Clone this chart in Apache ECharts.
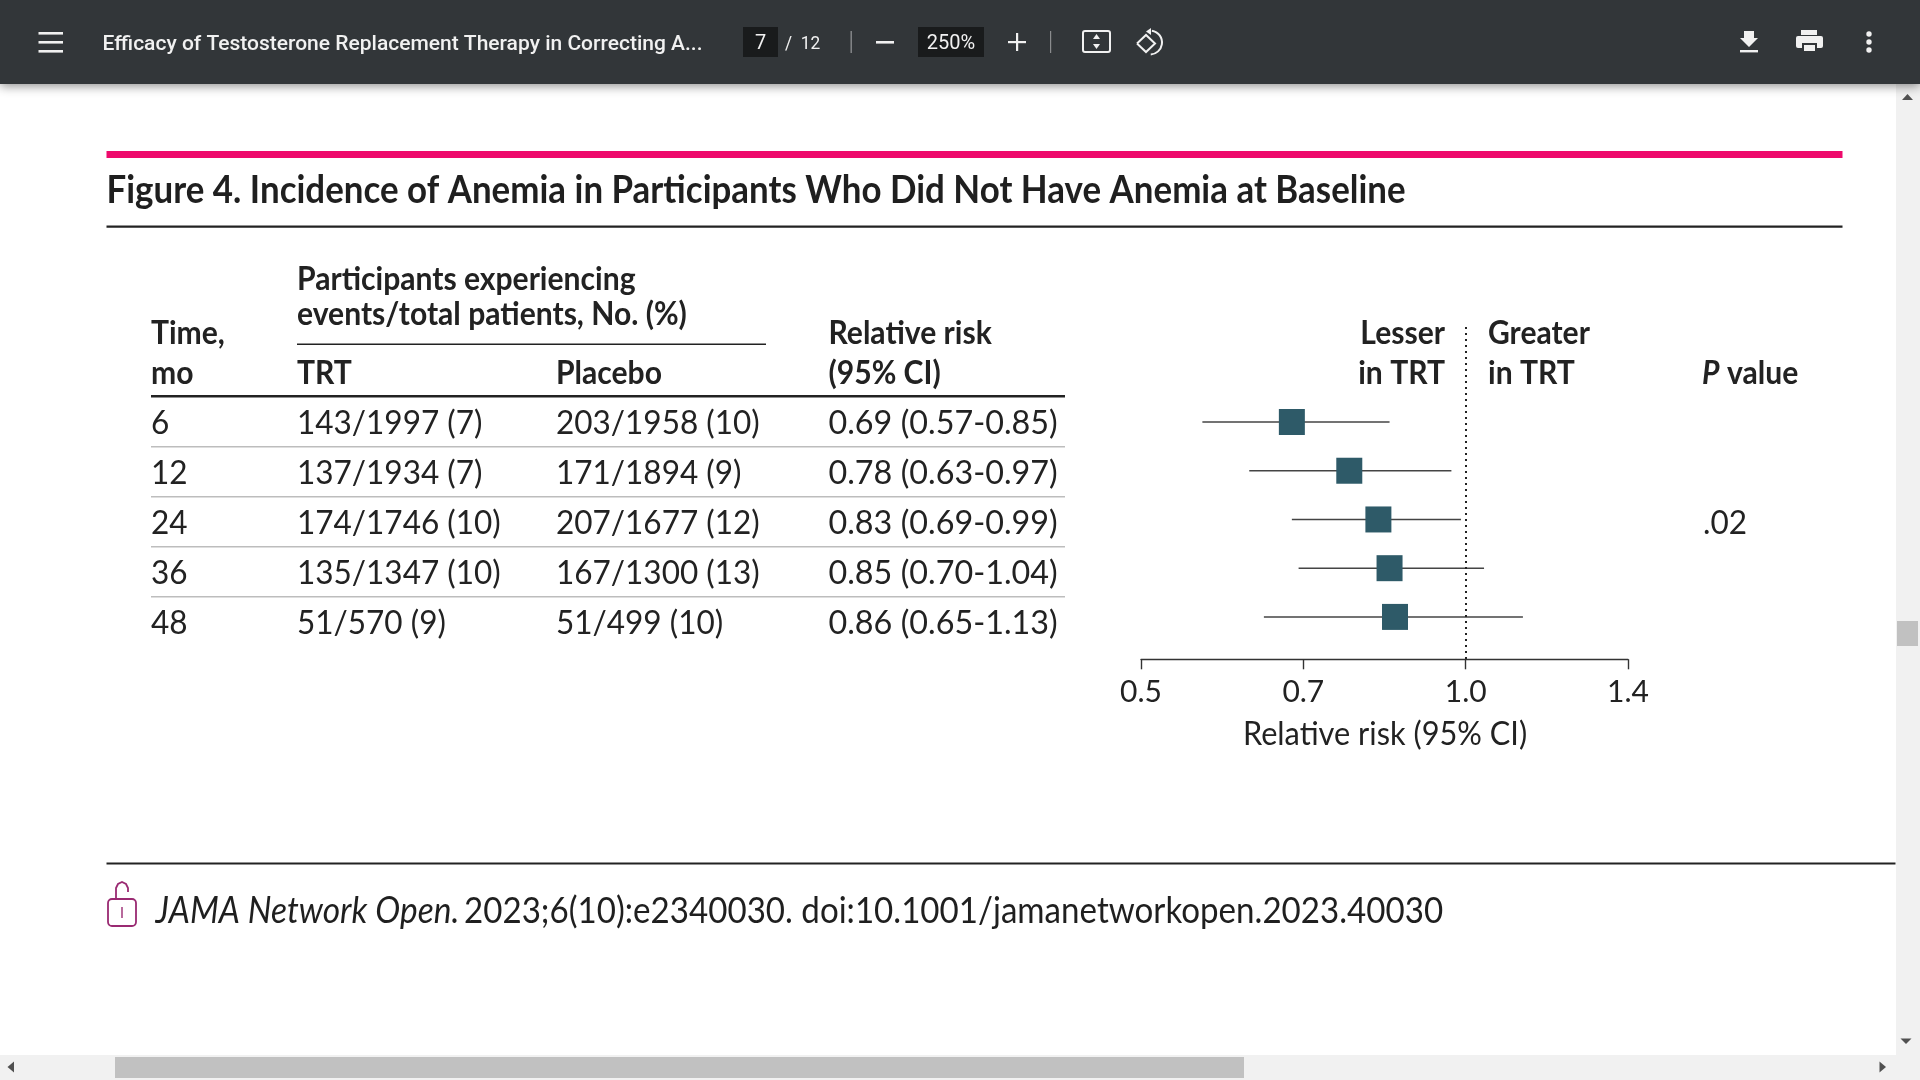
<!DOCTYPE html>
<html>
<head>
<meta charset="utf-8">
<title>Figure 4</title>
<script src="https://cdn.jsdelivr.net/npm/echarts@6/dist/echarts.min.js"></script>
<style>
html, body { margin: 0; padding: 0; background: #fff; overflow: hidden; }
#chart { width: 1920px; height: 1080px; }
</style>
</head>
<body>
<div id="chart"></div>
<script>
// table columns
const times = ['6', '12', '24', '36', '48'];
const trtCounts = ['143/1997 (7)', '137/1934 (7)', '174/1746 (10)', '135/1347 (10)', '51/570 (9)'];
const placeboCounts = ['203/1958 (10)', '171/1894 (9)', '207/1677 (12)', '167/1300 (13)', '51/499 (10)'];
const riskLabels = ['0.69 (0.57-0.85)', '0.78 (0.63-0.97)', '0.83 (0.69-0.99)', '0.85 (0.70-1.04)', '0.86 (0.65-1.13)'];

// forest plot
const risk = [0.69, 0.78, 0.83, 0.85, 0.86];
const ciLow = [0.57, 0.63, 0.69, 0.70, 0.65];
const ciHigh = [0.85, 0.97, 0.99, 1.04, 1.13];
const tickLabels = ['0.5', '0.7', '1.0', '1.4'];

const INK = '#222222';
const LIGHT = '#f1f1f1';
const BODY = 'Lato';
const rowY = [424, 474, 524, 574, 624];
const graphics = [];

function text(str, x, y, size, opts) {
    opts = opts || {};
    graphics.push({
        type: 'text',
        x: x,
        y: y,
        scaleX: opts.scaleX || 1,
        z: 10,
        style: {
            text: str,
            fill: opts.fill || INK,
            font: `${opts.italic ? 'italic ' : ''}${opts.weight || 400} ${size}px ${opts.family || BODY}`,
            align: opts.align || 'left',
            verticalAlign: 'middle'
        }
    });
}

function rect(x, y, w, h, fill, r, z) {
    graphics.push({
        type: 'rect',
        z: z || 5,
        shape: { x: x, y: y, width: w, height: h, r: r || 0 },
        style: { fill: fill }
    });
}

function frame(x, y, w, h, stroke, r, lineWidth) {
    graphics.push({
        type: 'rect',
        z: 11,
        shape: { x: x, y: y, width: w, height: h, r: r },
        style: { fill: 'none', stroke: stroke, lineWidth: lineWidth }
    });
}

function stroke(points, color, lineWidth) {
    graphics.push({
        type: 'polyline',
        z: 11,
        shape: { points: points },
        style: { fill: 'none', stroke: color, lineWidth: lineWidth }
    });
}

function poly(points, fill) {
    graphics.push({ type: 'polygon', z: 11, shape: { points: points }, style: { fill: fill } });
}

// table
const HEAD = { weight: 700, scaleX: 0.94 };
const COUNT = { scaleX: 0.985 };
const RR = { scaleX: 1.01 };
text('Participants experiencing', 297, 280, 32, HEAD);
text('events/total patients, No. (%)', 297, 315, 32, HEAD);
text('Time,', 151, 334, 32, HEAD);
text('mo', 151, 374, 32, HEAD);
text('TRT', 297, 374, 32, HEAD);
text('Placebo', 556, 374, 32, HEAD);
text('Relative risk', 828.5, 334, 32, HEAD);
text('(95% CI)', 828.5, 374, 32, HEAD);
rect(297, 343.5, 469, 1.6, INK);
rect(151, 395, 914, 2.6, INK);
[446, 496, 546, 596].forEach(y => rect(151, y, 914, 1.4, '#bdbdbd'));

times.forEach((t, i) => {
    text(t, 151, rowY[i], 32, COUNT);
    text(trtCounts[i], 297, rowY[i], 32, COUNT);
    text(placeboCounts[i], 556, rowY[i], 32, COUNT);
    text(riskLabels[i], 828.5, rowY[i], 32, RR);
});

// forest plot captions
text('Lesser', 1445, 334, 32, { weight: 700, align: 'right', scaleX: 0.94 });
text('in TRT', 1445, 374, 32, { weight: 700, align: 'right', scaleX: 0.94 });
text('Greater', 1488, 334, 32, HEAD);
text('in TRT', 1488, 374, 32, HEAD);
text('P', 1702, 374, 32, { weight: 700, italic: true, scaleX: 0.94 });
text('value', 1727, 374, 32, HEAD);
text('.02', 1703, 524, 32, COUNT);
text('Relative risk (95% CI)', 1385, 735, 32, { align: 'center', scaleX: 0.96 });

// figure frame
rect(106.5, 151, 1736, 7, '#ee0a6c');
text('Figure 4. Incidence of Anemia in Participants Who Did Not Have Anemia at Baseline', 106.5, 190, 39, { weight: 700, scaleX: 0.895, fill: '#1f1f1f' });
rect(106.5, 225.5, 1736, 2.2, INK);
rect(106.5, 862.5, 1789, 2, INK);

// citation and lock
text('JAMA Network Open.', 155.5, 911, 36, { italic: true, scaleX: 0.93, fill: '#1f1f1f' });
text('2023;6(10):e2340030. doi:10.1001/jamanetworkopen.2023.40030', 464, 911, 36, { scaleX: 0.92, fill: '#1f1f1f' });
frame(108, 899, 28, 27, '#9a2a72', 4, 1.8);
stroke([[122, 907], [122, 918]], '#9a2a72', 1.4);
stroke([[116, 899], [116, 888], [118, 884], [122, 882], [126, 884], [128, 888], [128, 892]], '#9a2a72', 1.8);

// viewer toolbar
graphics.push({
    type: 'rect',
    z: 8,
    shape: { x: 0, y: 0, width: 1920, height: 84 },
    style: { fill: '#323639', shadowBlur: 10, shadowColor: 'rgba(0,0,0,0.45)', shadowOffsetY: 2 }
});
[32, 41, 50].forEach(y => rect(38.5, y, 24.5, 2.6, LIGHT, 0, 11));
text('Efficacy of Testosterone Replacement Therapy in Correcting A...', 102.5, 44.5, 21, { fill: LIGHT, weight: 500, family: 'Roboto' });
rect(743, 27, 35, 30, '#191b1c', 0, 9);
text('7', 760.5, 43.5, 20, { fill: LIGHT, align: 'center', family: 'Roboto' });
text('/  12', 785, 44, 18, { fill: LIGHT, family: 'Roboto', scaleX: 0.96 });
rect(850.5, 31, 1.4, 22, '#8a8c8e', 0, 11);
rect(876, 41, 18, 2.6, LIGHT, 0, 11);
rect(918, 27, 66, 30, '#191b1c', 0, 9);
text('250%', 951, 43.5, 20, { fill: LIGHT, align: 'center', family: 'Roboto' });
rect(1008, 41, 18, 2.2, LIGHT, 0, 11);
rect(1016, 33, 2.2, 18, LIGHT, 0, 11);
rect(1050, 31, 1.2, 22, '#8a8c8e', 0, 11);
frame(1083, 31, 27, 21, LIGHT, 2, 2);
poly([[1096.5, 34], [1100, 39], [1093, 39]], LIGHT);
poly([[1096.5, 49], [1100, 44], [1093, 44]], LIGHT);
stroke([[1137, 43.5], [1146, 35], [1155, 43.5], [1146, 52], [1137, 43.5]], LIGHT, 2);
graphics.push({
    type: 'arc',
    z: 11,
    shape: { cx: 1150, cy: 42.5, r: 12, startAngle: -Math.PI * 0.45, endAngle: Math.PI * 0.48 },
    style: { fill: 'none', stroke: LIGHT, lineWidth: 2 }
});
poly([[1151, 28], [1151, 35], [1146, 31.5]], LIGHT);
poly([[1744, 31], [1754, 31], [1754, 38], [1758, 38], [1749, 47], [1740, 38], [1744, 38]], LIGHT);
rect(1740, 50, 18, 2.4, LIGHT, 0, 11);
rect(1801, 30, 16, 5, LIGHT, 0, 11);
rect(1796, 36, 27, 12, LIGHT, 2, 11);
rect(1802, 43, 15, 10, '#323639', 0, 12);
rect(1804, 45, 11, 6, LIGHT, 0, 13);
[34, 42, 50].forEach(cy => graphics.push({ type: 'circle', z: 11, shape: { cx: 1869, cy: cy, r: 2.7 }, style: { fill: LIGHT } }));

// browser scrollbars
rect(1896, 84, 24, 996, '#f1f1f1', 0, 6);
rect(0, 1055, 1920, 25, '#f1f1f1', 0, 6);
rect(1897, 621, 21, 25, '#c1c1c1', 0, 7);
rect(115, 1057, 1129, 21, '#c1c1c1', 0, 7);
poly([[1907.5, 94], [1913, 100], [1902, 100]], '#505050');
poly([[1906, 1044], [1911.5, 1038.5], [1900.5, 1038.5]], '#505050');
poly([[7.5, 1067], [14, 1061.5], [14, 1072.5]], '#505050');
poly([[1886, 1067], [1879.5, 1061.5], [1879.5, 1072.5]], '#505050');

const chart = echarts.init(document.getElementById('chart'), null, { renderer: 'canvas' });
chart.setOption({
    animation: false,
    backgroundColor: '#ffffff',
    textStyle: { fontFamily: BODY },
    graphic: graphics,
    grid: { left: 1141, top: 327, width: 487, height: 332.3 },
    xAxis: {
        type: 'log',
        logBase: Math.SQRT2,
        min: 0.5,
        max: Math.SQRT2,
        interval: 1,
        splitLine: { show: false },
        minorTick: { show: false },
        axisLine: { show: true, onZero: false, lineStyle: { color: '#333333', width: 1.4 } },
        axisTick: { show: true, length: 10, inside: false, lineStyle: { color: '#333333', width: 1.4 } },
        axisLabel: {
            color: INK,
            fontSize: 30,
            margin: 18,
            fontFamily: BODY,
            showMinLabel: true,
            showMaxLabel: true,
            formatter: (value, index) => tickLabels[index]
        }
    },
    yAxis: { type: 'value', inverse: true, min: -1.95, max: 4.87, show: false },
    series: [
        {
            type: 'custom',
            z: 2,
            clip: false,
            data: times.map((t, i) => [ciLow[i], ciHigh[i], i]),
            encode: { x: [0, 1], y: 2 },
            renderItem: (params, api) => {
                const from = api.coord([api.value(0), api.value(2)]);
                const to = api.coord([api.value(1), api.value(2)]);
                return {
                    type: 'line',
                    shape: { x1: from[0], y1: from[1], x2: to[0], y2: to[1] },
                    style: { stroke: '#444444', lineWidth: 1.5 }
                };
            }
        },
        {
            type: 'scatter',
            z: 3,
            symbol: 'rect',
            symbolSize: 26,
            itemStyle: { color: '#2e5a68', opacity: 1 },
            data: risk.map((r, i) => [r, i]),
            markLine: {
                silent: true,
                symbol: 'none',
                label: { show: false },
                lineStyle: { color: '#222222', type: [2, 4], width: 2 },
                data: [{ xAxis: 1 }]
            }
        }
    ]
});
</script>
</body>
</html>
